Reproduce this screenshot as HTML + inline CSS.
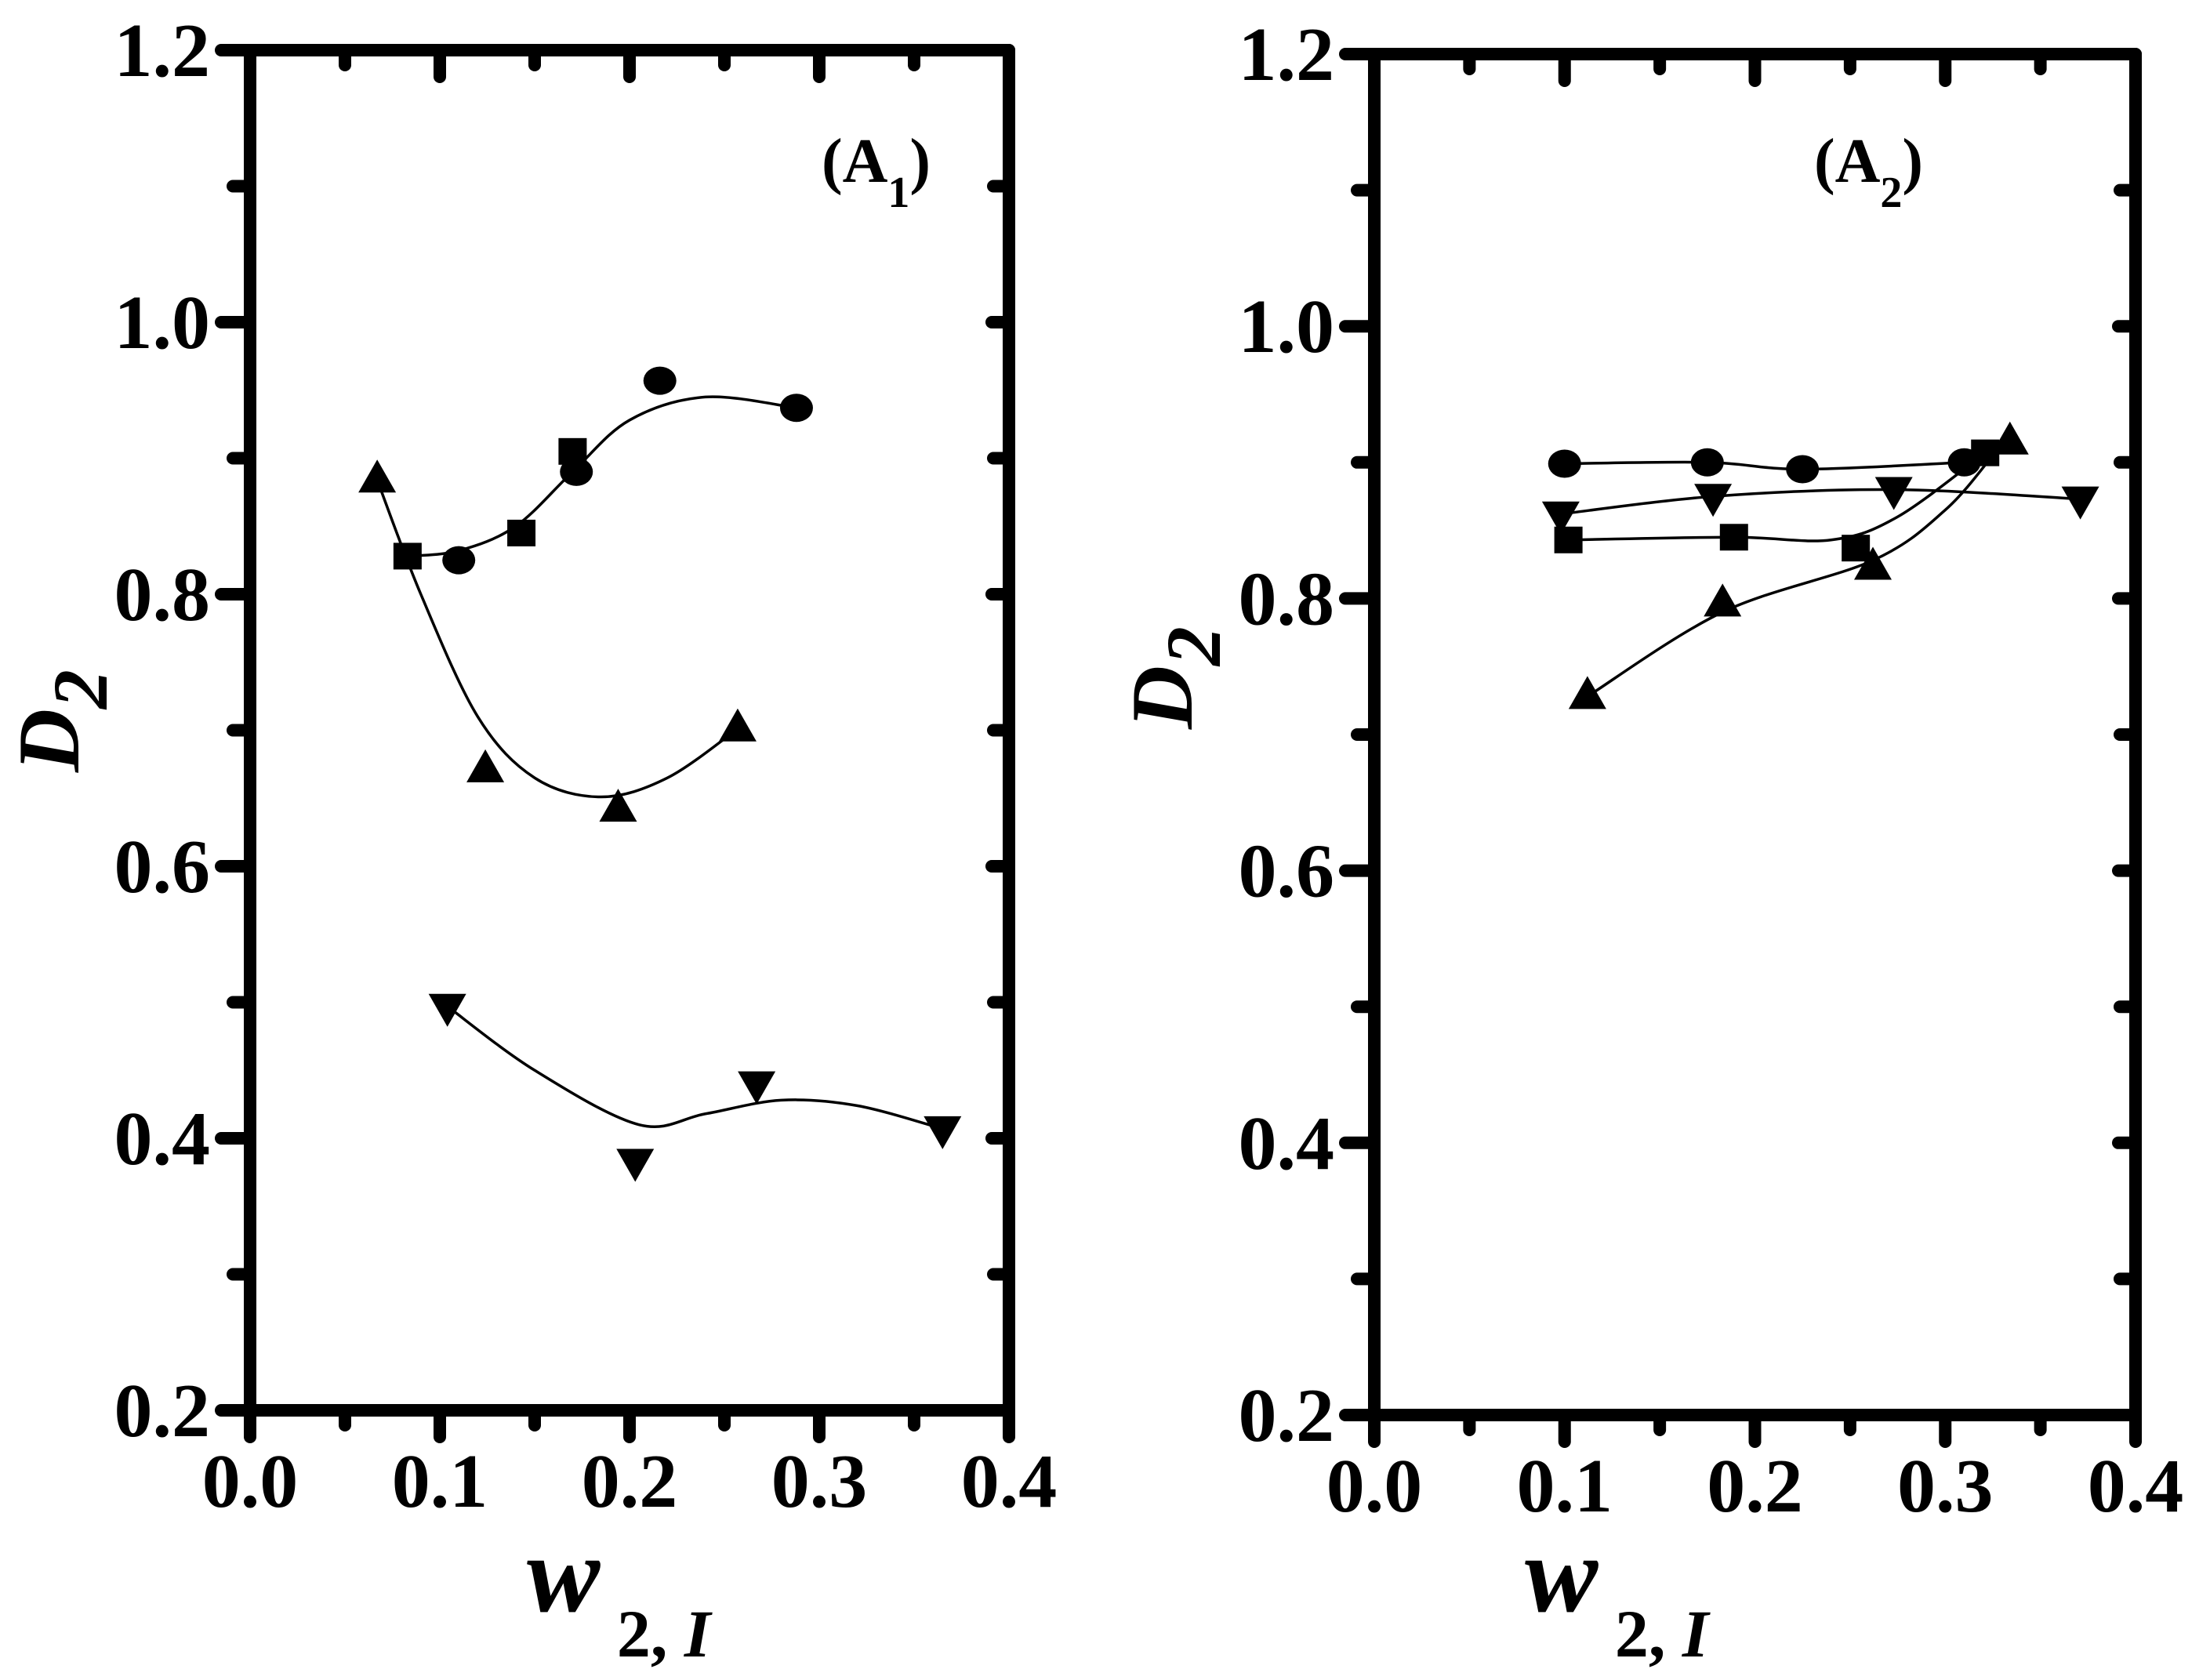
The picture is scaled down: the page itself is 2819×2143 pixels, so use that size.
<!DOCTYPE html>
<html><head><meta charset="utf-8">
<style>
html,body{margin:0;padding:0;background:#fff;}
svg{display:block;}
text{font-family:"Liberation Serif",serif;font-weight:bold;fill:#000;}
</style></head>
<body>
<svg id="chart" width="2819" height="2143" viewBox="0 0 2819 2143" xmlns="http://www.w3.org/2000/svg"></svg>
<script>
// ---- data: panel A1 ----
const a1CircleX = [0.110, 0.172, 0.216, 0.288];
const a1CircleY = [0.825, 0.890, 0.957, 0.937];
const a1SquareX = [0.083, 0.143, 0.170];
const a1SquareY = [0.828, 0.845, 0.905];
const a1UpX = [0.067, 0.124, 0.194, 0.257];
const a1UpY = [0.884, 0.671, 0.642, 0.701];
const a1DownX = [0.104, 0.203, 0.267, 0.365];
const a1DownY = [0.497, 0.383, 0.440, 0.407];
// fitted curves
const a1FitCSX = [0.083, 0.110, 0.140, 0.170, 0.200, 0.240, 0.288];
const a1FitCSY = [0.828, 0.832, 0.850, 0.890, 0.928, 0.945, 0.937];
const a1FitUpX = [0.067, 0.090, 0.120, 0.150, 0.185, 0.220, 0.257];
const a1FitUpY = [0.884, 0.800, 0.710, 0.665, 0.651, 0.665, 0.701];
const a1FitDownX = [0.104, 0.150, 0.205, 0.240, 0.280, 0.320, 0.365];
const a1FitDownY = [0.497, 0.450, 0.410, 0.418, 0.428, 0.424, 0.407];
// ---- data: panel A2 ----
const a2CircleX = [0.100, 0.175, 0.225, 0.310];
const a2CircleY = [0.899, 0.900, 0.895, 0.900];
const a2SquareX = [0.102, 0.189, 0.253, 0.321];
const a2SquareY = [0.843, 0.845, 0.837, 0.907];
const a2DownX = [0.098, 0.178, 0.273, 0.371];
const a2DownY = [0.862, 0.875, 0.880, 0.873];
const a2UpX = [0.112, 0.183, 0.262, 0.334];
const a2UpY = [0.728, 0.796, 0.823, 0.915];
const a2FitSqX = [0.102, 0.189, 0.240, 0.275, 0.321];
const a2FitSqY = [0.843, 0.845, 0.843, 0.860, 0.907];
const a2FitUpX = [0.112, 0.183, 0.262, 0.300, 0.325];
const a2FitUpY = [0.728, 0.790, 0.828, 0.865, 0.905];
// ticks
const xTicks = ["0.0","0.1","0.2","0.3","0.4"];
const yTicks = ["0.2","0.4","0.6","0.8","1.0","1.2"];

const NS = "http://www.w3.org/2000/svg";
const svg = document.getElementById('chart');
function mk(tag, attrs, parent){
  const e = document.createElementNS(NS, tag);
  for (const k in attrs) e.setAttribute(k, attrs[k]);
  (parent||svg).appendChild(e);
  return e;
}
function spline(pts){
  let d = "M"+pts[0][0]+","+pts[0][1];
  for (let i=0;i<pts.length-1;i++){
    const p0=pts[Math.max(i-1,0)], p1=pts[i], p2=pts[i+1], p3=pts[Math.min(i+2,pts.length-1)];
    const c1=[p1[0]+(p2[0]-p0[0])/6, p1[1]+(p2[1]-p0[1])/6];
    const c2=[p2[0]-(p3[0]-p1[0])/6, p2[1]-(p3[1]-p1[1])/6];
    d += " C"+c1[0]+","+c1[1]+" "+c2[0]+","+c2[1]+" "+p2[0]+","+p2[1];
  }
  return d;
}

function panel(cfg){
  const g = mk('g', {});
  
  
  const L=cfg.left, R=cfg.right, T=cfg.top, B=cfg.bottom;
  const sx = v => L + (v-0)/(0.4)*(R-L);
  const sy = v => B - (v-0.2)/(1.0)*(B-T);
  for (let i=0;i<=8;i++){
    const v=i*0.05, x=sx(v), major=i%2===0;
    const tb = mk('line',{x1:x,y1:B,x2:x,y2:B+(major?34:19),stroke:'#000','stroke-width':16,'stroke-linecap':'round'},g);
     
    const tt = mk('line',{x1:x,y1:T,x2:x,y2:T+(major?34:19),stroke:'#000','stroke-width':16,'stroke-linecap':'round'},g);
     
  }
  for (let i=0;i<=10;i++){
    const v=0.2+i*0.1, y=sy(v), major=i%2===0;
    const tl = mk('line',{x1:L,y1:y,x2:L-(major?37:22),y2:y,stroke:'#000','stroke-width':16,'stroke-linecap':'round'},g);
     
    const tr = mk('line',{x1:R,y1:y,x2:R-(major?22:20),y2:y,stroke:'#000','stroke-width':16,'stroke-linecap':'round'},g);
     
  }
  const frame = mk('rect',{x:L,y:T,width:R-L,height:B-T,fill:'none',stroke:'#000','stroke-width':16,'stroke-linejoin':'round'},g);
   
  xTicks.forEach((t,i)=>{
    const e = mk('text',{x:sx(i*0.1),y:B+123,'font-size':98,'text-anchor':'middle'},g);
    e.textContent=t;
     
  });
  yTicks.forEach((t,i)=>{
    const e = mk('text',{x:L-51,y:sy(0.2+i*0.2)+33,'font-size':98,'text-anchor':'end'},g);
    e.textContent=t;
     
  });
  const yl = mk('text',{transform:'translate('+(cfg.ylx)+','+cfg.yly+') rotate(-90)','font-size':112,'font-style':'italic'},g);
  yl.innerHTML = 'D<tspan dy="36" font-size="100" font-style="italic">2</tspan>';
   
  const xl = mk('text',{x:cfg.xlx,y:2055,'font-size':140,'font-style':'italic'},g);
  xl.innerHTML = 'w<tspan dy="58" font-size="86" font-style="normal"> 2, </tspan><tspan font-size="86" font-style="italic">I</tspan>';
   
  const pl = mk('text',{x:cfg.plx,y:232,'font-size':80},g);
  pl.innerHTML = '(A<tspan dy="32" font-size="56">'+cfg.sub+'</tspan><tspan dy="-32">)</tspan>';
   
  cfg.curves.forEach(c=>{
    const pts = c[0].map((v,i)=>[sx(v), sy(c[1][i])]);
    const p = mk('path',{d:spline(pts),fill:'none',stroke:'#000','stroke-width':3.5},g);
     
  });
  cfg.series.forEach(s=>{
    s.x.forEach((v,i)=>{
      const x=sx(v), y=sy(s.y[i]); let m;
      if (s.shape==='circle') m = mk('ellipse',{cx:x,cy:y,rx:21,ry:18},g);
      else if (s.shape==='square') m = mk('rect',{x:x-18,y:y-17,width:36,height:34},g);
      else if (s.shape==='up') m = mk('polygon',{points:(x-24)+','+(y+16)+' '+(x+24)+','+(y+16)+' '+x+','+(y-26)},g);
      else m = mk('polygon',{points:(x-24)+','+(y-16)+' '+(x+24)+','+(y-16)+' '+x+','+(y+26)},g);
      m.setAttribute('fill','#000');
      
      
    });
  });
}

panel({name:'panel-a1', left:319, right:1287, top:64, bottom:1799, ylx:100, yly:985, xlx:672, plx:1048, sub:'1',
  curves:[[a1FitCSX,a1FitCSY],[a1FitUpX,a1FitUpY],[a1FitDownX,a1FitDownY]],
  series:[{shape:'circle',x:a1CircleX,y:a1CircleY},{shape:'square',x:a1SquareX,y:a1SquareY},
          {shape:'up',x:a1UpX,y:a1UpY},{shape:'down',x:a1DownX,y:a1DownY}]});
panel({name:'panel-a2', left:1753, right:2724, top:69, bottom:1805, ylx:1520, yly:930, xlx:1945, plx:2314, sub:'2',
  curves:[[a2CircleX,a2CircleY],[a2DownX,a2DownY],[a2FitSqX,a2FitSqY],[a2FitUpX,a2FitUpY]],
  series:[{shape:'circle',x:a2CircleX,y:a2CircleY},{shape:'square',x:a2SquareX,y:a2SquareY},
          {shape:'down',x:a2DownX,y:a2DownY},{shape:'up',x:a2UpX,y:a2UpY}]});
</script>
</body></html>
